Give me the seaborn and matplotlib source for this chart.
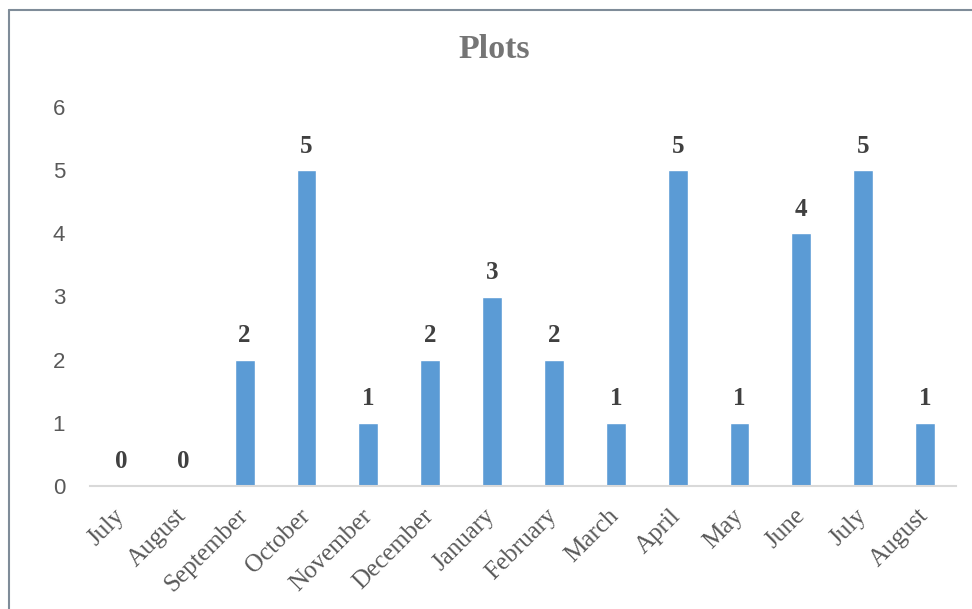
import matplotlib
matplotlib.use("Agg")
import matplotlib.pyplot as plt
from matplotlib.lines import Line2D
import seaborn as sns
import pandas as pd

months = ["July", "August", "September", "October", "November", "December",
          "January", "February", "March", "April", "May", "June", "July", "August"]
plots = [0, 0, 2, 5, 1, 2, 3, 2, 1, 5, 1, 4, 5, 1]
y_ticks = [0, 1, 2, 3, 4, 5, 6]

df = pd.DataFrame({"slot": range(len(months)), "month": months, "plots": plots})

sns.set_theme(style="white")
W, H = 972, 609
fig = plt.figure(figsize=(W / 100, H / 100), dpi=100)
ax = fig.add_axes([90 / W, 1 - 486 / H, 866 / W, (486 - 107) / H])

sns.barplot(data=df, x="slot", y="plots", color="#5B9BD5", width=0.32,
            saturation=1, ax=ax, order=list(range(len(months))))

ax.set_ylim(0, 6)
ax.set_xlim(-0.5, len(months) - 0.5)
ax.set_yticks(y_ticks)
ax.set_yticklabels([str(t) for t in y_ticks], fontsize=16, color="#595959",
                   family="Liberation Sans")
ax.tick_params(axis="y", length=0, pad=18)
ax.tick_params(axis="x", length=0, pad=4)
ax.set_xticks(range(len(months)))
ax.set_xticklabels(months, rotation=45, ha="right", va="center",
                   rotation_mode="anchor", fontsize=18, color="#595959",
                   family="Liberation Serif")
for lbl in ax.get_xticklabels():
    lbl.set_y(-0.055)
ax.set_xlabel("")
ax.set_ylabel("")

for s in ["top", "right", "left"]:
    ax.spines[s].set_visible(False)
ax.spines["bottom"].set_color("#D9D9D9")
ax.spines["bottom"].set_linewidth(1.5)

for container in ax.containers:
    ax.bar_label(container, labels=[str(v) for v in plots], padding=9,
                 fontsize=18, fontweight="bold", color="#404040",
                 family="Liberation Serif")

fig.text(494 / W, 1 - 49 / H, "Plots", ha="center", va="center",
         fontsize=24.5, fontweight="bold", color="#757575",
         family="Liberation Serif")

# outer frame: top and left edges
fig.add_artist(Line2D([9 / W, 1], [1 - 10 / H, 1 - 10 / H],
                      transform=fig.transFigure, color="#7F8C99", lw=1.5))
fig.add_artist(Line2D([9 / W, 9 / W], [0, 1 - 10 / H],
                      transform=fig.transFigure, color="#7F8C99", lw=1.5))

fig.savefig("out.png", dpi=100)
